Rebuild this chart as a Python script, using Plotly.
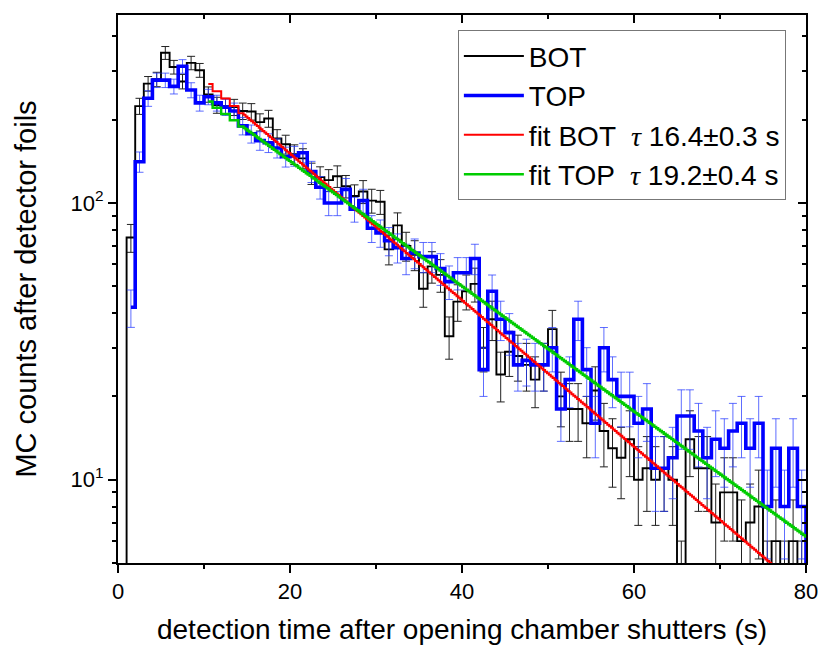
import numpy as np
import plotly.graph_objects as go

# ---------------- data ----------------
# 1-s histogram bins; value index k = bin [k, k+1) s, bin centre k+0.5
bot_t = [k + 0.5 for k in range(81)]
bot_counts = [1, 75, 224, 270, 280, 349, 310, 275, 321, 302,
              247, 226, 224, 222, 215, 214, 196, 202, 171, 163,
              150, 145, 128, 124, 121, 125, 115, 106, 110, 102,
              101, 68, 83, 70, 65, 49, 59, 55, 33, 44,
              48, 51, 30, 38, 24, 29, 28, 26, 23, 26,
              35, 20, 18, 18, 16, 21, 15, 13, 12, 14,
              10, 11, 10, 11, 10, 4, 14, 11, 11, 7,
              9, 9, 6, 7, 8, 4, 6, 4, 6, 4,
              1]

top_t = [k + 0.5 for k in range(1, 81)]
top_counts = [42, 141, 239, 278, 278, 264, 312, 256, 230,
              242, 230, 222, 215, 190, 178, 168, 165, 158, 147,
              148, 152, 130, 114, 100, 100, 112, 95, 102, 81,
              78, 73, 69, 63, 66, 64, 64, 58, 52, 56,
              56, 63, 25, 48, 38, 34, 26, 27, 26, 26,
              30, 18, 23, 38, 25, 16, 30, 23, 20, 20,
              16, 18, 11, 11, 12, 17, 17, 15, 12, 14,
              13, 15, 16, 13, 16, 8, 13, 8, 13, 8,
              1]

# exponential fits  N(t) = A * exp(-t / tau)
fit_bot_tau, fit_bot_amp = 16.4, 511.0
fit_top_tau, fit_top_amp = 19.2, 402.0
fit_t_start, fit_t_end = 10.5, 80.0

TAU = "<span style=\"font-family:'Liberation Serif', 'Times New Roman', serif\"><i>τ</i></span>"
legend_names = ["BOT", "TOP",
                "fit BOT  " + TAU + " 16.4±0.3 s",
                "fit TOP  " + TAU + " 19.2±0.4 s"]

# ---------------- figure ----------------
bot_c = np.array(bot_counts, dtype=float)
top_c = np.array(top_counts, dtype=float)

fit_t = np.concatenate([np.arange(fit_t_start, 14.5, 1.0),
                        np.linspace(14.5, fit_t_end, 300)])
fit_bot = fit_bot_amp * np.exp(-fit_t / fit_bot_tau)
fit_top = fit_top_amp * np.exp(-fit_t / fit_top_tau)

FONT = "Liberation Sans, Arial, sans-serif"

fig = go.Figure()
fig.add_trace(go.Scatter(
    x=bot_t, y=bot_c, mode="lines", name=legend_names[0],
    line=dict(color="black", width=1.9, shape="hvh"),
    error_y=dict(type="data", array=np.sqrt(bot_c), visible=True,
                 color="#222222", thickness=1, width=4)))
fig.add_trace(go.Scatter(
    x=top_t, y=top_c, mode="lines", name=legend_names[1],
    line=dict(color="#0000ff", width=3.6, shape="hvh"),
    error_y=dict(type="data", array=np.sqrt(top_c), visible=True,
                 color="rgba(40,60,255,0.75)", thickness=1, width=4)))
fig.add_trace(go.Scatter(
    x=fit_t, y=fit_bot, mode="lines", name=legend_names[2],
    line=dict(color="#ff0000", width=2, shape="hvh")))
fig.add_trace(go.Scatter(
    x=fit_t, y=fit_top, mode="lines", name=legend_names[3],
    line=dict(color="#00cc00", width=2.4, shape="hvh")))
# invisible copy on the mirrored (top/right) axes so they get drawn
fig.add_trace(go.Scatter(
    x=fit_t, y=fit_bot, mode="lines", xaxis="x2", yaxis="y2",
    line=dict(width=0), opacity=0, showlegend=False, hoverinfo="skip"))

fig.update_layout(
    width=819, height=649,
    margin=dict(l=118, r=13, t=15, b=86),
    paper_bgcolor="white", plot_bgcolor="white",
    font=dict(family=FONT, size=18, color="black"),
    showlegend=True,
    legend=dict(x=0.494, y=0.972, xanchor="left", yanchor="top",
                bgcolor="white", bordercolor="#777777", borderwidth=1,
                font=dict(family=FONT, size=28, color="black"),
                tracegroupgap=0, itemwidth=60),
)

common_tick = dict(tickwidth=2, tickcolor="black")
fig.update_layout(
    xaxis=dict(
        range=[0, 80], dtick=20, tick0=0, automargin=False,
        showline=True, linecolor="black", linewidth=2,
        ticks="outside", ticklen=8, **common_tick,
        minor=dict(dtick=10, ticks="outside", ticklen=4, **common_tick),
        showgrid=False, zeroline=False,
        tickfont=dict(family=FONT, size=22),
        title=dict(text="detection time after opening chamber shutters (s)",
                   font=dict(family=FONT, size=28), standoff=16),
    ),
    yaxis=dict(
        type="log", range=[np.log10(5), np.log10(478)], automargin=False,
        tickvals=[10, 100], ticktext=["10<sup>1</sup>", "10<sup>2</sup>"],
        showline=True, linecolor="black", linewidth=2,
        ticks="outside", ticklen=8, **common_tick,
        minor=dict(tickvals=[5, 6, 7, 8, 9, 20, 30, 40, 50, 60, 70, 80, 90, 200, 300, 400],
                   ticks="outside", ticklen=4, **common_tick),
        showgrid=False, zeroline=False,
        tickfont=dict(family=FONT, size=22),
        title=dict(text="MC counts after detector foils",
                   font=dict(family=FONT, size=29), standoff=25),
    ),
    xaxis2=dict(
        overlaying="x", anchor="y2", side="top", matches="x",
        range=[0, 80], dtick=20, tick0=0, automargin=False,
        showline=True, linecolor="black", linewidth=2,
        ticks="inside", ticklen=8, **common_tick,
        minor=dict(dtick=10, ticks="inside", ticklen=4, **common_tick),
        showticklabels=False, showgrid=False, zeroline=False,
    ),
    yaxis2=dict(
        overlaying="y", anchor="x2", side="right", matches="y",
        type="log", range=[np.log10(5), np.log10(478)], automargin=False,
        tickvals=[10, 100],
        showline=True, linecolor="black", linewidth=2,
        ticks="inside", ticklen=8, **common_tick,
        minor=dict(tickvals=[5, 6, 7, 8, 9, 20, 30, 40, 50, 60, 70, 80, 90, 200, 300, 400],
                   ticks="inside", ticklen=4, **common_tick),
        showticklabels=False, showgrid=False, zeroline=False,
    ),
)

fig.write_html("out.html")
